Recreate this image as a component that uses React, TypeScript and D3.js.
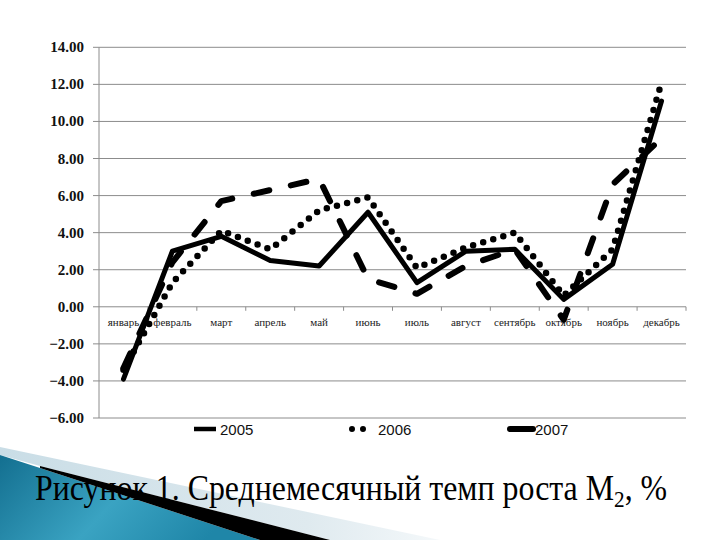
import React from "react";
import * as d3 from "d3";

const months = ["январь", "февраль", "март", "апрель", "май", "июнь", "июль", "август", "сентябрь", "октябрь", "ноябрь", "декабрь"];
const s2005 = [-3.3, 2.4, 5.7, 6.3, 6.9, 1.5, 0.7, 2.2, 3.1, -0.7, 6.6, 9.1];
const s2006 = [-3.4, 1.3, 4.1, 3.1, 5.2, 5.9, 2.1, 3.2, 4.0, 0.6, 3.1, 12.1];
const s2007 = [-3.9, 3.0, 3.8, 2.5, 2.2, 5.1, 1.3, 3.0, 3.1, 0.4, 2.3, 11.1];
const seriesNames = ["2005", "2006", "2007"];
const yTicks = [14, 12, 10, 8, 6, 4, 2, 0, -2, -4, -6];

const SERIF = "'Liberation Serif', 'Times New Roman', 'DejaVu Serif', serif";

export default function App() {
  const W = 720, H = 540;
  const x = d3.scaleBand<string>().domain(months).range([99, 686]);
  const y = d3.scaleLinear().domain([-6, 14]).range([418, 47.3]);
  const line = d3.line<number>().x((_, i) => (x(months[i]) as number) + x.bandwidth() / 2).y((d) => y(d));
  const fmt = d3.format(".2f");
  const styles = [
    { data: s2005, dash: "16 22", width: 6 },
    { data: s2006, dash: "0 10.5", width: 6.5 },
    { data: s2007, dash: undefined as string | undefined, width: 5 },
  ];
  const legendX = [193, 350, 508];
  return (
    <svg width={W} height={H} style={{ position: "absolute", left: 0, top: 0 }} xmlns="http://www.w3.org/2000/svg">
      <defs>
        <linearGradient id="teal" x1="0" y1="0" x2="1" y2="0.3">
          <stop offset="0" stopColor="#136f90" />
          <stop offset="0.55" stopColor="#3aa3c2" />
          <stop offset="1" stopColor="#1f86a8" />
        </linearGradient>
        <linearGradient id="light" x1="0" y1="0" x2="1" y2="0">
          <stop offset="0" stopColor="#c9dde6" />
          <stop offset="0.7" stopColor="#dfeaef" />
          <stop offset="1" stopColor="#f4f8fa" />
        </linearGradient>
      </defs>
      <rect width={W} height={H} fill="#ffffff" />
      {yTicks.map((t) => (
        <g key={t}>
          <line x1={93} x2={686} y1={y(t)} y2={y(t)} stroke="#8c8c8c" strokeWidth={1} />
          <text x={84} y={y(t) + 5} textAnchor="end" fontFamily={SERIF} fontWeight="bold" fontSize={15} fill="#111">
            {fmt(t)}
          </text>
        </g>
      ))}
      <line x1={99} x2={99} y1={y(14)} y2={y(-6)} stroke="#8c8c8c" strokeWidth={1} />
      {months.map((m) => (
        <line key={"t" + m} x1={(x(m) as number) + x.bandwidth()} x2={(x(m) as number) + x.bandwidth()} y1={y(0)} y2={y(0) + 4} stroke="#8c8c8c" strokeWidth={1} />
      ))}
      {months.map((m) => (
        <text key={m} x={(x(m) as number) + x.bandwidth() / 2} y={326} textAnchor="middle" fontFamily={SERIF} fontSize={11} fill="#222">
          {m}
        </text>
      ))}
      {styles.map((s, i) => (
        <path key={i} d={line(s.data) || ""} fill="none" stroke="#000" strokeWidth={s.width} strokeDasharray={s.dash} strokeLinecap="round" strokeLinejoin="round" />
      ))}
      <line x1={194} x2={216} y1={429} y2={429} stroke="#000" strokeWidth={4.5} />
      <line x1={352} x2={364} y1={429} y2={429} stroke="#000" strokeWidth={6} strokeDasharray="0 11" strokeLinecap="round" />
      <line x1={510} x2={533} y1={429} y2={429} stroke="#000" strokeWidth={6} strokeLinecap="round" />
      {seriesNames.map((n, i) => (
        <text key={n} x={legendX[i] + (i === 1 ? 28 : 27)} y={435} fontFamily="'Liberation Sans', Arial, sans-serif" fontSize={15} fill="#111">
          {n}
        </text>
      ))}
      <polygon points="0,447 440,540 330,540 40,466 0,455" fill="url(#light)" />
      <polygon points="0,455 40,468 260,540 0,540" fill="url(#teal)" />
      <polygon points="40,466 330,540 260,540 40,468" fill="#000" />
      <g transform="translate(35,500) scale(0.885,1)">
        <text x={0} y={0} fontFamily={SERIF} fontSize={36} fill="#000">
          Рисунок 1. Среднемесячный темп роста M<tspan fontSize={24} dy={7}>2</tspan><tspan dy={-7}>, %</tspan>
        </text>
      </g>
    </svg>
  );
}
